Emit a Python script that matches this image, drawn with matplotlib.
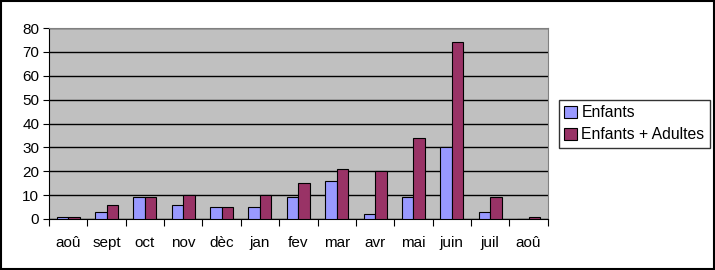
import numpy as np
import matplotlib.pyplot as plt

plt.rcParams['font.family'] = ['Liberation Sans', 'DejaVu Sans']

mois = ['aoû', 'sept', 'oct', 'nov', 'dèc', 'jan', 'fev', 'mar', 'avr', 'mai', 'juin', 'juil', 'aoû']
enfants = [1, 3, 9, 6, 5, 5, 9, 16, 2, 9, 30, 3, 0]
enfants_adultes = [1, 6, 9, 10, 5, 10, 15, 21, 20, 34, 74, 9, 1]

fig = plt.figure(figsize=(7.15, 2.7), dpi=100)
ax = fig.add_axes([0.0685, 0.189, 0.6975, 0.707])
ax.set_facecolor('#C0C0C0')

x = np.arange(len(mois))
w = 0.3
ax.bar(x - w / 2, enfants, w, color='#9999FF', edgecolor='black', linewidth=0.8, label='Enfants', zorder=3)
ax.bar(x + w / 2, enfants_adultes, w, color='#993366', edgecolor='black', linewidth=0.8, label='Enfants + Adultes', zorder=3)

ax.set_xlim(-0.5, len(mois) - 0.5)
ax.set_ylim(0, 80)
ax.set_yticks(range(0, 81, 10))
ax.yaxis.grid(True, color='black', linewidth=1, zorder=1)

# ticks entre les categories, labels au centre
ax.set_xticks(np.arange(-0.5, len(mois), 1))
ax.set_xticklabels([])
ax.set_xticks(x, minor=True)
ax.set_xticklabels(mois, minor=True)
ax.tick_params(axis='x', which='minor', length=0, pad=12, labelsize=11)
ax.tick_params(axis='x', which='major', length=5, color='black')
ax.tick_params(axis='y', length=4, labelsize=11, pad=3)

for s in ['top', 'right']:
    ax.spines[s].set_color('#808080')
for s in ['left', 'bottom']:
    ax.spines[s].set_color('black')

leg = ax.legend(loc='center left', bbox_to_anchor=(1.022, 0.5), borderaxespad=0, fontsize=11.3,
                frameon=True, fancybox=False, edgecolor='black', handlelength=0.8, handleheight=0.8,
                handletextpad=0.3, borderpad=0.35, labelspacing=0.45)
leg.get_frame().set_linewidth(1)

fig.patches.append(plt.Rectangle((0.001, 0.002), 0.997, 0.995, transform=fig.transFigure,
                                 fill=False, edgecolor='black', linewidth=1.5))

fig.savefig('out.png', dpi=100)
